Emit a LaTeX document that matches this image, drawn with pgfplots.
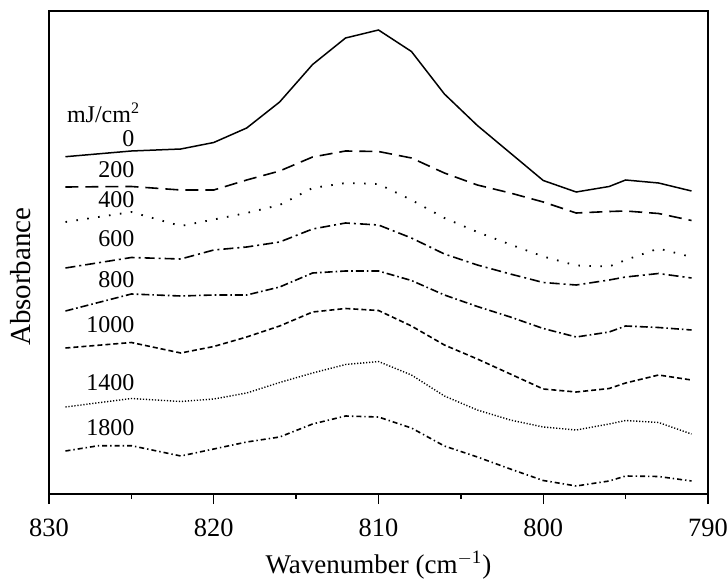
\documentclass[border=0pt]{standalone}
\usepackage{fontspec}
\setmainfont{Liberation Serif}
\usepackage{pgfplots}
\pgfplotsset{compat=1.18}

\begin{document}
\fontsize{12}{14}\selectfont
\begin{tikzpicture}
\begin{axis}[
  scale only axis, width=329.5pt, height=241.5pt,
  x dir=reverse, xmin=790, xmax=830, ymin=0, ymax=483,
  xtick={790,800,810,820,830}, minor xtick={795,805,815,825},
  ytick=\empty, xtick pos=left, tick align=outside,
  major tick length=5pt, minor tick length=2.6pt,
  axis line style={line width=0.7pt},
  every tick/.style={black, line width=0.7pt},
  /pgf/number format/assume math mode=true,
  /pgf/number format/1000 sep={},
  xticklabel style={font=\fontsize{13.2}{16}\selectfont, yshift=-3.5pt},
  every axis x label/.style={at={(axis description cs:0.5,-0.147)}, anchor=center,
    font=\fontsize{13.5}{16}\selectfont},
  every axis y label/.style={at={(axis description cs:-0.043,0.45)}, anchor=center, rotate=90,
    font=\fontsize{14.5}{17}\selectfont},
  xlabel={Wavenumber (cm\textsuperscript{$-$1})},
  ylabel={Absorbance},
  clip=false,
]
% 0 mJ/cm2
\addplot[black, line width=0.75pt] coordinates {
 (829,337.3) (825,343) (822,345) (820,351.5) (818,366) (816,392) (814,429.5)
 (812,456) (810,464) (808,442.5) (806,400) (804,368.5) (802,341) (800,313.5)
 (798,302) (796,307.5) (795,314) (793,311) (791,303)};
% 200
\addplot[black, line width=0.8pt, dash pattern=on 6.5pt off 3.5pt] coordinates {
 (829,307) (825,307.5) (822,304) (820,304) (818,314) (816,323) (814,337)
 (812,343) (810,342.5) (808,336) (806,321) (804,309) (802,301) (800,292)
 (798,281) (796,282.5) (795,283) (793,280.5) (791,273.5)};
% 400
\addplot[black, line width=0.9pt, dash pattern=on 0.8pt off 4.7pt] coordinates {
 (829,272) (825,282) (822,268) (820,274.5) (818,281) (816,289) (814,306)
 (812,311) (810,310) (808,294) (806,276) (804,262) (802,249.5) (800,237.5)
 (798,228.5) (796,227.5) (795,234) (793,245.5) (791,237)};
% 600
\addplot[black, line width=0.8pt, dash pattern=on 5pt off 2pt on 1pt off 2pt] coordinates {
 (829,226) (825,236.5) (822,235) (820,244) (818,247) (816,252) (814,265)
 (812,271) (810,269) (808,256) (806,240) (804,229) (802,220) (800,211.5)
 (798,209) (796,214) (795,217) (793,220.5) (791,216)};
% 800
\addplot[black, line width=0.8pt, dash pattern=on 4pt off 1.5pt on 0.8pt off 1.5pt] coordinates {
 (829,183) (825,200) (822,198) (820,199) (818,199) (816,207) (814,221)
 (812,223) (810,223) (808,213.5) (806,199) (804,187.5) (802,177) (800,165.5)
 (798,157) (796,162) (795,168) (793,166.5) (791,164)};
% 1000
\addplot[black, line width=0.8pt, dash pattern=on 2.5pt off 1.5pt] coordinates {
 (829,146) (825,151.5) (822,141) (820,147.5) (818,157) (816,168) (814,182)
 (812,185.5) (810,183.5) (808,168) (806,149) (804,135) (802,120) (800,105)
 (798,102) (796,105.5) (795,111) (793,119) (791,114)};
% 1400
\addplot[black, line width=0.7pt, dash pattern=on 0.6pt off 0.9pt] coordinates {
 (829,87) (825,95.5) (822,92.5) (820,95) (818,101) (816,111.5) (814,121)
 (812,129.5) (810,132.5) (808,119) (806,98) (804,84) (802,74) (800,67)
 (798,64) (796,70) (795,73.5) (793,71.5) (791,60)};
% 1800
\addplot[black, line width=0.8pt, dash pattern=on 2.5pt off 1.5pt on 0.7pt off 1.5pt] coordinates {
 (829,43) (827,48.3) (825,48.3) (822,38) (820,45) (818,52) (816,57) (814,70)
 (812,78) (810,77) (808,66) (806,48) (804,37) (802,25) (800,13.5)
 (798,8) (796,13) (795,18) (793,17.5) (791,13)};

% fluence labels
\node[anchor=base east, inner sep=0pt] at (axis cs:824.45,371.3) {mJ/cm\textsuperscript{2}};
\node[anchor=base east, inner sep=0pt] at (axis cs:824.8,347.3) {0};
\node[anchor=base east, inner sep=0pt] at (axis cs:824.8,316.7) {200};
\node[anchor=base east, inner sep=0pt] at (axis cs:824.8,286.7) {400};
\node[anchor=base east, inner sep=0pt] at (axis cs:824.8,247.3) {600};
\node[anchor=base east, inner sep=0pt] at (axis cs:824.8,206.7) {800};
\node[anchor=base east, inner sep=0pt] at (axis cs:824.8,161.3) {1000};
\node[anchor=base east, inner sep=0pt] at (axis cs:824.8,104) {1400};
\node[anchor=base east, inner sep=0pt] at (axis cs:824.8,59) {1800};

\coordinate (bl) at (rel axis cs:0,0);
\coordinate (tr) at (rel axis cs:1,1);
\end{axis}
\pgfresetboundingbox
\path (bl) ++(-24.5pt,-42pt) coordinate (p1);
\path (tr) ++(9.5pt,5.5pt) coordinate (p2);
\useasboundingbox (p1) rectangle (p2);
\end{tikzpicture}
\end{document}
